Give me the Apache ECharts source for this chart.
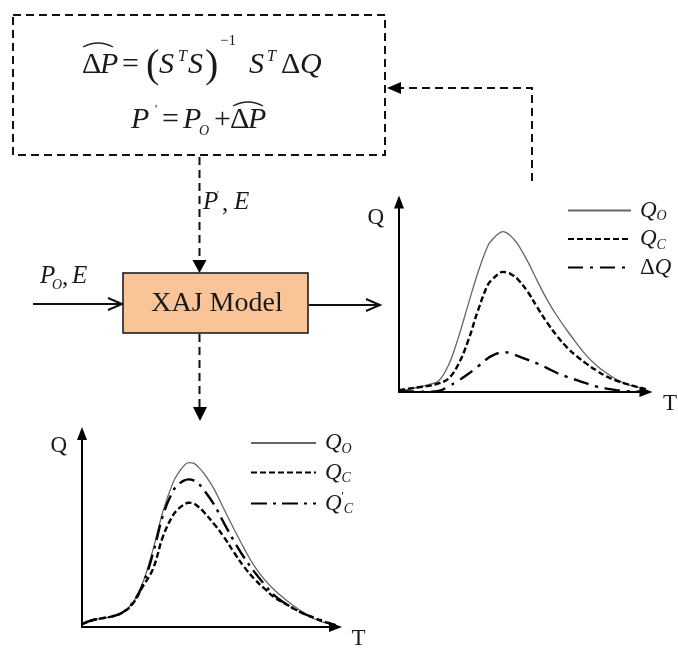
<!DOCTYPE html>
<html>
<head>
<meta charset="utf-8">
<script src="https://cdn.jsdelivr.net/npm/echarts@6/dist/echarts.min.js"></script>
<style>html,body{margin:0;padding:0;background:#fff;}#c{width:678px;height:650px;}</style>
</head>
<body>
<div id="c"></div>
<script>
// ---- data ----
const T = [0,4,8,12,16,20,24,28,32,36,38,40,42,44,46,48,52,56,60,64,68,72,76,80,84,88,92,96,100];
const rightQO = [0.5,1.5,2.5,3.9,5.8,14,28.5,46,63,77,80.5,83,84.4,83.5,81,78,69,58.5,48.5,40,32.5,25.5,19,14,10,6.7,4.2,2.8,1.5];
const rightQC = [1,1.8,2.5,3.2,4.5,7,14.5,27,43,56.5,59.5,61.8,63.2,62.8,61.5,59.5,53,44.5,36.5,29.5,23.5,18.8,14.8,11.3,8.2,6,4.3,2.8,1.5];
const rightDQ = [0.5,0.3,0.2,0.2,0.5,3,6,9.5,13.5,17.8,19.3,20.4,21,20.8,20,19,17,15,12.6,10,8,6.2,4.5,2.9,1.8,1,0.5,0.3,0.2];
const botQO  = [1.5,3.5,4.5,5.5,7.5,12.5,23,40,60,75,79.5,83,85,84.7,82.5,79.5,71.5,61,50.5,40.5,31.5,24.5,19,14.5,10.5,7,4,2.2,0.8];
const botQCp = [1.5,3.5,4.5,5.5,7.5,12.5,22,38,58,70.5,73.5,75.5,76.3,75.8,74,71,63.5,53.7,44.3,35.8,28.5,22,16.2,12.3,9.2,6.6,4.6,2.7,1];
const botQC  = [1.5,3.5,4.5,5.5,7.5,12,21,30,47,58,61,63,64.2,63.8,62,59.5,53.4,46.5,38.5,31,24.8,19.8,15.2,12.2,9.2,6.6,4.5,2.5,1];
const legendLabels = {
  rQO: '{g|}{q|Q}{sub|O}', rQC: '{g|}{q|Q}{sub|C}', rDQ: '{g|}{d|Δ}{q|Q}',
  bQO: '{g|}{q|Q}{sub|O}', bQC: '{g|}{q|Q}{sub|C}', bQCp: '{g|}{q|Q}{sub2|\'}{sub|C}'
};

const SERIF = 'Liberation Serif';
const INK = '#1a1a1a';
const pairs = (ys) => T.map((t, i) => [t, ys[i]]);
const chart = echarts.init(document.getElementById('c'), null, {renderer: 'canvas'});

const richLegend = {
  g: {width: 4},
  q: {fontFamily: SERIF, fontStyle: 'italic', fontSize: 23, lineHeight: 26, color: INK},
  d: {fontFamily: SERIF, fontSize: 23, lineHeight: 26, color: INK},
  sub: {fontFamily: SERIF, fontStyle: 'italic', fontSize: 14, verticalAlign: 'bottom', lineHeight: 14, color: INK},
  sub2: {fontFamily: SERIF, fontSize: 12, verticalAlign: 'top', lineHeight: 12, color: INK}
};

function axisPair(gi, padQ, gapT, gapQ) {
  const axLine = {show: true, symbol: ['none', 'triangle'], symbolSize: [10, 13], lineStyle: {color: '#000', width: 2}};
  return {
    x: {type: 'value', gridIndex: gi, min: 0, max: 100, axisLine: axLine, axisTick: {show: false}, axisLabel: {show: false}, splitLine: {show: false},
        name: 'T', nameLocation: 'end', nameGap: gapT,
        nameTextStyle: {fontFamily: SERIF, fontSize: 23, color: INK, verticalAlign: 'top', align: 'left'}},
    y: {type: 'value', gridIndex: gi, min: 0, max: 100, axisLine: axLine, axisTick: {show: false}, axisLabel: {show: false}, splitLine: {show: false},
        name: 'Q', nameLocation: 'end', nameGap: gapQ,
        nameTextStyle: {fontFamily: SERIF, fontSize: 23, color: INK, verticalAlign: 'top', align: 'right', padding: [0, padQ, 0, 0]}}
  };
}
const a0 = axisPair(0, 15, 17, -4);
const a1 = axisPair(1, 15, 16, -1);

const solid = {color: '#666', width: 1.3, type: 'solid'};
const dashed = {color: '#000', width: 2.4, type: [6, 3]};
const dashdot = {color: '#000', width: 2.4, type: [15, 7, 3, 7]};
function ser(name, gi, ys, ls) {
  return {name, type: 'line', xAxisIndex: gi, yAxisIndex: gi, data: pairs(ys), smooth: 0.4,
    symbol: 'none', showSymbol: false, lineStyle: ls, itemStyle: {color: ls.color}, silent: true, animation: false};
}

const hatStyle = {stroke: '#222', lineWidth: 1.3, fill: 'none'};
const dashLine = {stroke: '#111', lineWidth: 2, lineDash: [8, 5], fill: 'none'};

// text piece helper for the formulas / labels
function tx(str, x, y, size, italic) {
  return {type: 'text', x: x, y: y, silent: true,
    style: {text: str, fill: INK, align: 'left', verticalAlign: 'middle',
            font: (italic ? 'italic ' : '') + size + 'px "' + SERIF + '"'}};
}

const formula = [
  tx('Δ', 82, 65, 30, false), tx('P', 100, 65, 30, true), tx('=', 122, 65, 30, false),
  tx('(', 146, 66, 40, false), tx('S', 159, 65, 30, true), tx('T', 178, 57, 16, true),
  tx('S', 188, 65, 30, true), tx(')', 205, 66, 40, false), tx('−1', 220, 41, 15, false),
  tx('S', 249, 65, 30, true), tx('T', 267, 57, 16, true), tx('Δ', 281, 65, 30, false), tx('Q', 300, 65, 30, true),
  {type: 'bezierCurve', shape: {x1: 83, y1: 47, cpx1: 98, cpy1: 39, x2: 113, y2: 47}, style: hatStyle},
  tx('P', 131, 120, 30, true), tx('\'', 155, 110, 12, false), tx('=', 162, 120, 30, false),
  tx('P', 183, 120, 30, true), tx('O', 199, 131, 14, true), tx('+', 214, 120, 30, false),
  tx('Δ', 230, 120, 30, false), tx('P', 248, 120, 30, true),
  {type: 'bezierCurve', shape: {x1: 233, y1: 106, cpx1: 248, cpy1: 98, x2: 263, y2: 106}, style: hatStyle},
  // P', E
  tx('P', 203, 202, 25, true), tx('\'', 217, 195, 10, false), tx(',', 222, 204, 25, false), tx('E', 234, 202, 25, true),
  // P_O, E
  tx('P', 40, 276, 25, true), tx('O', 52, 285, 14, true), tx(',', 62, 278, 25, false), tx('E', 72, 276, 25, true)
];

const option = {
  backgroundColor: '#fff',
  animation: false,
  grid: [
    {left: 399, top: 202, width: 251, height: 190},
    {left: 82, top: 433.5, width: 253.5, height: 193.5}
  ],
  xAxis: [a0.x, a1.x],
  yAxis: [a0.y, a1.y],
  legend: [
    {data: ['rQO', 'rQC', 'rDQ'], orient: 'vertical', left: 567, top: 199, padding: 0, itemWidth: 63, itemHeight: 14, itemGap: 4,
     selectedMode: false, itemStyle: {color: 'rgba(0,0,0,0)', borderWidth: 0},
     formatter: (n) => legendLabels[n], textStyle: {rich: richLegend}},
    {data: ['bQO', 'bQC', 'bQCp'], orient: 'vertical', left: 250, top: 431.5, padding: 0, itemWidth: 65, itemHeight: 14, itemGap: 5,
     selectedMode: false, itemStyle: {color: 'rgba(0,0,0,0)', borderWidth: 0},
     formatter: (n) => legendLabels[n], textStyle: {rich: richLegend}}
  ],
  series: [
    ser('rQO', 0, rightQO, solid),
    ser('rQC', 0, rightQC, dashed),
    ser('rDQ', 0, rightDQ, dashdot),
    ser('bQO', 1, botQO, solid),
    ser('bQC', 1, botQC, dashed),
    ser('bQCp', 1, botQCp, {color: '#000', width: 2.4, type: [16, 6, 3, 6]})
  ],
  graphic: [
    // formula box
    {type: 'rect', shape: {x: 13, y: 15, width: 372, height: 140}, style: dashLine, silent: true},
    ...formula,
    // feedback arrow
    {type: 'polyline', shape: {points: [[532, 181], [532, 88], [400, 88]]}, style: dashLine},
    {type: 'polygon', shape: {points: [[387, 88], [401, 82], [401, 94]]}, style: {fill: '#000'}},
    // dashed down into model
    {type: 'line', shape: {x1: 199.5, y1: 157, x2: 199.5, y2: 262}, style: dashLine},
    {type: 'polygon', shape: {points: [[192.5, 260], [206.5, 260], [199.5, 273]]}, style: {fill: '#000'}},
    // model box
    {type: 'rect', shape: {x: 123, y: 273, width: 185, height: 60}, style: {fill: '#F9C497', stroke: '#111', lineWidth: 1.5}},
    {type: 'text', x: 217, y: 304, style: {text: 'XAJ Model', font: '28px "Liberation Serif"', fill: INK, align: 'center', verticalAlign: 'middle'}},
    // input arrow
    {type: 'line', shape: {x1: 33, y1: 304, x2: 121, y2: 304}, style: {stroke: '#111', lineWidth: 2}},
    {type: 'polyline', shape: {points: [[108, 298], [122, 304], [108, 310]]}, style: {stroke: '#111', lineWidth: 2, fill: 'none'}},
    // output arrow
    {type: 'line', shape: {x1: 309, y1: 305, x2: 378, y2: 305}, style: {stroke: '#111', lineWidth: 2}},
    {type: 'polyline', shape: {points: [[366, 299], [380, 305], [366, 311]]}, style: {stroke: '#111', lineWidth: 2, fill: 'none'}},
    // dashed down to result
    {type: 'line', shape: {x1: 199.5, y1: 334, x2: 199.5, y2: 408}, style: dashLine},
    {type: 'polygon', shape: {points: [[193, 407], [207, 407], [200, 421]]}, style: {fill: '#000'}}
  ]
};
chart.setOption(option);
</script>
</body>
</html>
